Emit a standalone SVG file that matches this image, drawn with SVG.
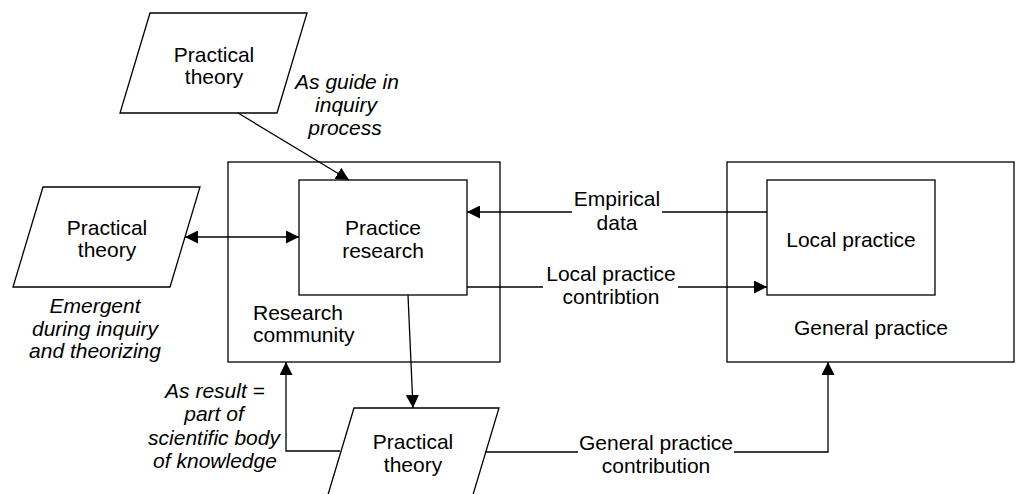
<svg xmlns="http://www.w3.org/2000/svg" width="1016" height="494" viewBox="0 0 1016 494">
  <style>
    .box { fill: #ffffff; stroke: #000000; stroke-width: 1.3; }
    .wire { fill: none; stroke: #000000; stroke-width: 1.3; }
    .lbl { font-family: "Liberation Sans", Arial, sans-serif; font-size: 21px; fill: #000000; }
    .mid { text-anchor: middle; }
    .it { font-style: italic; }
  </style>
  <defs>
    <marker id="arrow" markerUnits="userSpaceOnUse" markerWidth="14" markerHeight="13" refX="13" refY="6.5" orient="auto">
      <path d="M0,0 L13,6.5 L0,13 z" fill="#000000"/>
    </marker>
    <marker id="arrowStart" markerUnits="userSpaceOnUse" markerWidth="14" markerHeight="13" refX="0" refY="6.5" orient="auto">
      <path d="M13,0 L0,6.5 L13,13 z" fill="#000000"/>
    </marker>
  </defs>

  <rect width="1016" height="494" fill="#ffffff"/>

  <!-- Research community container -->
  <g id="research-community">
    <rect class="box" x="228" y="162" width="272" height="200"/>
    <text class="lbl" x="253" y="320">Research</text>
    <text class="lbl" x="253" y="342">community</text>
  </g>

  <!-- Practice research -->
  <g id="practice-research">
    <rect class="box" x="299" y="180" width="168" height="115"/>
    <text class="lbl mid" x="383" y="235">Practice</text>
    <text class="lbl mid" x="383" y="258">research</text>
  </g>

  <!-- General practice container -->
  <g id="general-practice">
    <rect class="box" x="727" y="162" width="287" height="200"/>
    <text class="lbl mid" x="871" y="335">General practice</text>
  </g>

  <!-- Local practice -->
  <g id="local-practice">
    <rect class="box" x="767" y="180" width="168" height="115"/>
    <text class="lbl mid" x="851" y="247">Local practice</text>
  </g>

  <!-- Practical theory: guide -->
  <g id="theory-guide">
    <polygon class="box" points="150,13 307,13 277,113 120,113"/>
    <text class="lbl mid" x="214" y="62">Practical</text>
    <text class="lbl mid" x="214" y="84">theory</text>
    <text class="lbl mid it" x="347" y="89">As guide in</text>
    <text class="lbl mid it" x="346" y="112">inquiry</text>
    <text class="lbl mid it" x="345" y="135">process</text>
  </g>

  <!-- Practical theory: emergent -->
  <g id="theory-emergent">
    <polygon class="box" points="43,187 200,187 170,287 13,287"/>
    <text class="lbl mid" x="107" y="235">Practical</text>
    <text class="lbl mid" x="107" y="257">theory</text>
    <text class="lbl mid it" x="95" y="313">Emergent</text>
    <text class="lbl mid it" x="95" y="336">during inquiry</text>
    <text class="lbl mid it" x="95" y="358">and theorizing</text>
  </g>

  <!-- Practical theory: result -->
  <g id="theory-result">
    <polygon class="box" points="354,408 499,408 469,508 324,508"/>
    <text class="lbl mid" x="413" y="449">Practical</text>
    <text class="lbl mid" x="413" y="472">theory</text>
    <text class="lbl mid it" x="215" y="398">As result =</text>
    <text class="lbl mid it" x="214" y="421">part of</text>
    <text class="lbl mid it" x="214" y="445">scientific body</text>
    <text class="lbl mid it" x="215" y="468">of knowledge</text>
  </g>

  <!-- Connectors -->
  <g id="connectors">
    <line class="wire" x1="238" y1="113" x2="349" y2="180" marker-end="url(#arrow)"/>
    <line class="wire" x1="185" y1="237" x2="299" y2="237" marker-start="url(#arrowStart)" marker-end="url(#arrow)"/>

    <line class="wire" x1="767" y1="212" x2="662" y2="212"/>
    <line class="wire" x1="572" y1="212" x2="467" y2="212" marker-end="url(#arrow)"/>
    <text class="lbl mid" x="617" y="206">Empirical</text>
    <text class="lbl mid" x="617" y="230">data</text>

    <line class="wire" x1="467" y1="287" x2="543" y2="287"/>
    <line class="wire" x1="678" y1="287" x2="767" y2="287" marker-end="url(#arrow)"/>
    <text class="lbl mid" x="611" y="281">Local practice</text>
    <text class="lbl mid" x="611" y="304">contribtion</text>

    <line class="wire" x1="408" y1="295" x2="413" y2="408" marker-end="url(#arrow)"/>

    <polyline class="wire" points="340,451 286,451 286,362" marker-end="url(#arrow)"/>

    <line class="wire" x1="485" y1="452" x2="578" y2="452"/>
    <polyline class="wire" points="734,452 828,452 828,362" marker-end="url(#arrow)"/>
    <text class="lbl mid" x="656" y="450">General practice</text>
    <text class="lbl mid" x="656" y="473">contribution</text>
  </g>
</svg>
